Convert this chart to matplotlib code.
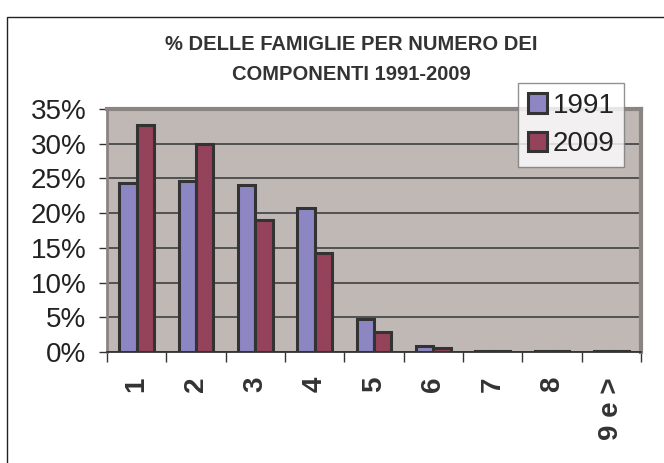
import matplotlib
matplotlib.use("Agg")
import matplotlib.pyplot as plt
import numpy as np
from matplotlib.patches import Rectangle

categories = ["1", "2", "3", "4", "5", "6", "7", "8", "9 e >"]
series_names = ["1991", "2009"]
values_1991 = [24.4, 24.6, 24.1, 20.7, 4.7, 0.86, 0.2, 0.1, 0.1]
values_2009 = [32.7, 30.0, 19.0, 14.3, 2.9, 0.6, 0.2, 0.1, 0.1]
yticks = [0, 5, 10, 15, 20, 25, 30, 35]
title = "% DELLE FAMIGLIE PER NUMERO DEI\nCOMPONENTI 1991-2009"

plt.rcParams['font.family'] = ['Liberation Sans', 'DejaVu Sans']

W, H = 664, 463
fig = plt.figure(figsize=(W / 100, H / 100), dpi=100)
fig.patch.set_facecolor("white")

# outer chart border
fig.patches.append(Rectangle((7 / W, -0.1), 1.2, 1 - 17 / H + 0.1,
                             transform=fig.transFigure, fill=False,
                             edgecolor="#222222", linewidth=1.0))

ax = fig.add_axes([107 / W, 1 - 352 / H, (641 - 107) / W, (352 - 109) / H])
ax.set_facecolor("#C0B8B5")

x = np.arange(len(categories))
bw = 0.29
ax.bar(x - bw / 2, values_1991, width=bw, color="#8C86C2", edgecolor="#333333",
       linewidth=2.2, label=series_names[0], zorder=3)
ax.bar(x + bw / 2, values_2009, width=bw, color="#94435A", edgecolor="#333333",
       linewidth=2.2, label=series_names[1], zorder=3)

ax.set_xlim(-0.5, len(categories) - 0.5)
ax.set_ylim(0, 35)
ax.set_yticks(yticks)
ax.set_yticklabels([f"{v}%" for v in yticks], fontsize=20, color="#222222")
ax.yaxis.grid(True, color="#4a4a4a", linewidth=1.3, zorder=1)
ax.set_axisbelow(True)

ax.set_xticks(x)
ax.set_xticklabels(categories, rotation=90, fontsize=20, fontweight="bold",
                   color="#333333", va="top", ha="center")
ax.set_xticks(np.arange(len(categories) + 1) - 0.5, minor=True)
ax.tick_params(axis="x", which="major", length=0, pad=18)
ax.tick_params(axis="x", which="minor", length=7, width=1.0, color="#333333",
               direction="out")
ax.tick_params(axis="y", which="major", length=6, width=1.0, color="#333333",
               direction="out", pad=9)

for s in ["top", "right"]:
    ax.spines[s].set_color("#8C8482")
    ax.spines[s].set_linewidth(3)
ax.spines["left"].set_color("#8C8482")
ax.spines["left"].set_linewidth(2)
ax.spines["bottom"].set_color("#333333")
ax.spines["bottom"].set_linewidth(1.3)

fig.text(351 / W, 1 - 35 / H, title, ha="center", va="top", fontsize=14.5,
         fontweight="bold", color="#333333", linespacing=1.75)

leg = fig.legend(loc="upper left", bbox_to_anchor=(518 / W, 1 - 83 / H),
                 bbox_transform=fig.transFigure, fontsize=20, frameon=True,
                 fancybox=False, edgecolor="#777777", handlelength=0.7,
                 handleheight=0.7, handletextpad=0.2, borderpad=0.35,
                 labelspacing=0.45, borderaxespad=0)
leg.get_frame().set_linewidth(1.0)
for t in leg.get_texts():
    t.set_color("#222222")

fig.savefig("out.png", dpi=100)
